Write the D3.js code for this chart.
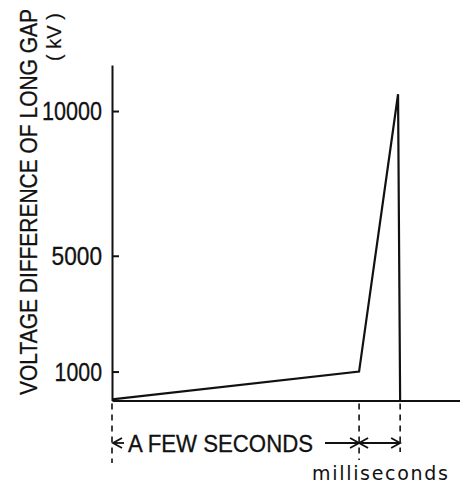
<!DOCTYPE html>
<html>
<head>
<meta charset="utf-8">
<script src="https://cdn.jsdelivr.net/npm/d3@7"></script>
<style>
  html, body { margin: 0; padding: 0; background: #fff; }
  svg { display: block; }
  text { fill: #111; }
</style>
</head>
<body>
<svg id="chart" width="460" height="488"></svg>
<script>
// Schematic time axis (arbitrary units): slow rise over a few seconds,
// then a fast rise over milliseconds and collapse at breakdown.
const timePoints = [0, 71, 82.2, 82.8];
const voltageKV = [40, 1000, 10580, 0];
const yTicks = [1000, 5000, 10000];
const guideTimes = [0, 71, 82.8];
const yTitle = "VOLTAGE DIFFERENCE OF LONG GAP";
const yUnit = "( kV )";
const slowLabel = "A FEW SECONDS";
const fastLabel = "milliseconds";

const svg = d3.select("#chart");
const ink = "#111";
const sans = "'Liberation Sans', Arial, sans-serif";
const narrow = "'Liberation Sans Narrow', 'Liberation Sans', Arial, sans-serif";

const x = d3.scaleLinear().domain([0, 100]).range([112, 460]);
const y = d3.scaleLinear().domain([0, 11590]).range([400.5, 65]);

// Y axis: ticks point inward, labels on the left
const yAxis = d3.axisLeft(y)
  .tickValues(yTicks)
  .tickSizeInner(-7)
  .tickSizeOuter(0)
  .tickPadding(10)
  .tickFormat(d3.format("d"));

const gy = svg.append("g").attr("transform", `translate(${x(0)},0)`).call(yAxis);
gy.select(".domain").attr("stroke", ink).attr("stroke-width", 2);
gy.selectAll(".tick line").attr("stroke", ink).attr("stroke-width", 2);
gy.selectAll(".tick text")
  .attr("font-family", sans)
  .attr("font-size", 25)
  .attr("dy", "0.34em")
  .attr("textLength", d => String(d).length * 12.6 - (String(d)[0] === "1" ? 3 : 0))
  .attr("lengthAdjust", "spacingAndGlyphs")
  .attr("fill", ink)
  .attr("stroke", ink).attr("stroke-width", 0.3);

// X baseline
const xAxis = d3.axisBottom(x).tickValues([]).tickSizeOuter(0);
const gx = svg.append("g").attr("transform", `translate(0,${y(0)})`).call(xAxis);
gx.select(".domain").attr("stroke", ink).attr("stroke-width", 1.8);

// Dashed guides below the baseline
const guideEnds = [463, 460, 452];
svg.append("g").selectAll("line")
  .data(guideTimes)
  .join("line")
  .attr("x1", d => x(d)).attr("x2", d => x(d))
  .attr("y1", y(0) + 3).attr("y2", (d, i) => guideEnds[i])
  .attr("stroke", ink).attr("stroke-width", 1.6)
  .attr("stroke-dasharray", "6,5");

// Voltage curve
const pts = timePoints.map((t, i) => [t, voltageKV[i]]);
svg.append("path")
  .datum(pts)
  .attr("fill", "none")
  .attr("stroke", ink)
  .attr("stroke-width", 2.2)
  .attr("stroke-linejoin", "miter")
  .attr("d", d3.line().x(d => x(d[0])).y(d => y(d[1])));

// Axis title
svg.append("text")
  .attr("transform", "translate(37,202) rotate(-90)")
  .attr("text-anchor", "middle")
  .attr("font-family", narrow)
  .attr("font-size", 24)
  .attr("textLength", 386)
  .attr("lengthAdjust", "spacingAndGlyphs")
  .attr("stroke", ink).attr("stroke-width", 0.3)
  .text(yTitle);

svg.append("text")
  .attr("transform", "translate(61,37) rotate(-90)")
  .attr("text-anchor", "middle")
  .attr("font-family", sans)
  .attr("font-size", 20)
  .attr("stroke", ink).attr("stroke-width", 0.2)
  .text(yUnit);

// Duration annotation with arrows
const arrowY = 443;
const ann = svg.append("g").attr("stroke", ink).attr("stroke-width", 1.8).attr("fill", "none");
function head(tipX, dir) {
  // open arrowhead; dir = +1 points right, -1 points left
  ann.append("path")
    .attr("d", `M${tipX - dir * 9},${arrowY - 5} L${tipX},${arrowY} L${tipX - dir * 9},${arrowY + 5}`);
}
const xs0 = x(guideTimes[0]), xs1 = x(guideTimes[1]), xs2 = x(guideTimes[2]);
ann.append("line").attr("x1", xs0 + 1).attr("x2", xs0 + 12).attr("y1", arrowY).attr("y2", arrowY);
head(xs0 + 1, -1);
ann.append("line").attr("x1", 325).attr("x2", xs1).attr("y1", arrowY).attr("y2", arrowY);
head(xs1, 1);
ann.append("line").attr("x1", xs1).attr("x2", xs2).attr("y1", arrowY).attr("y2", arrowY);
head(xs1, -1);
head(xs2, 1);

svg.append("text")
  .attr("x", 128).attr("y", 452)
  .attr("font-family", sans)
  .attr("font-size", 23)
  .attr("textLength", 185)
  .attr("lengthAdjust", "spacingAndGlyphs")
  .attr("stroke", ink).attr("stroke-width", 0.3)
  .text(slowLabel);

svg.append("text")
  .attr("x", 312).attr("y", 480)
  .attr("font-family", "'DejaVu Sans', sans-serif")
  .attr("font-size", 19)
  .attr("textLength", 136)
  .attr("lengthAdjust", "spacing")
  .text(fastLabel);
</script>
</body>
</html>
